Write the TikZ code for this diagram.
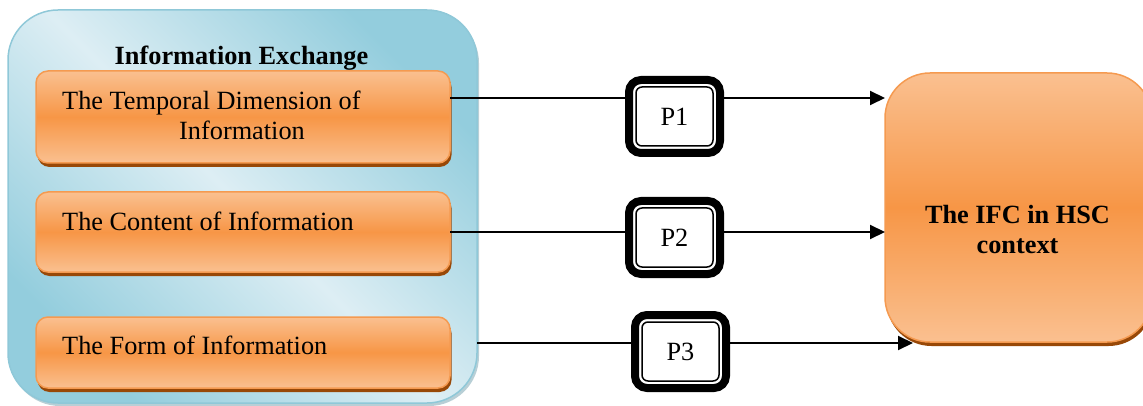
\documentclass[tikz,border=0pt]{standalone}
\usepackage{fontspec}
\setmainfont{Liberation Serif}
\usetikzlibrary{arrows.meta,shadows,calc}
\definecolor{orL}{HTML}{FAC090}
\definecolor{orM}{HTML}{F79646}
\definecolor{orB}{HTML}{F59A50}
\definecolor{orS}{HTML}{984807}
\definecolor{blL}{HTML}{DDEEF4}
\definecolor{blD}{HTML}{93CDDD}
\definecolor{blB}{HTML}{8FC8D8}
\newcommand{\fsz}{\fontsize{26.3}{30}\selectfont}
\tikzset{
  obox/.style={rounded corners=12pt, draw=orB, line width=1.5pt, outer sep=0pt, inner sep=0pt,
    top color=orL, bottom color=orL, middle color=orM,
    drop shadow={shadow xshift=1.5pt, shadow yshift=-4pt, fill=orS, opacity=1}},
  bbox/.style={rounded corners=50pt, draw=blB, line width=1.5pt, outer sep=0pt, inner sep=0pt,
    top color=blD, bottom color=blD, middle color=blL, shading angle=-45,
    drop shadow={shadow xshift=2pt, shadow yshift=-3pt, fill=blB!80!black, opacity=0.5}},
  pbox/.style={draw=black, line width=8pt, fill=white, rounded corners=12pt, outer sep=0pt,
    minimum width=91pt, minimum height=73pt, inner sep=0pt, font=\fsz},
  pin/.style={line width=1.5pt, rounded corners=6pt},
  txt/.style={font=\fsz, inner sep=0pt},
  btxt/.style={font=\fsz\bfseries, inner sep=0pt},
  arr/.style={line width=2pt, -{Triangle[length=15pt,width=14pt]}}
}
\begin{document}
\begin{tikzpicture}[x=1pt,y=-1pt]
\useasboundingbox (0,0) rectangle (1143,406);
\clip (0,0) rectangle (1143,406);
% left container
\node[bbox, minimum width=469pt, minimum height=393pt] (blue) at (242.5,206.5) {};
\node[btxt, anchor=base] (title) at (241.5,65) {Information Exchange};
% orange boxes
\node[obox, minimum width=414pt, minimum height=92pt] (t1) at (243,117) {};
\node[txt, anchor=base west] (t1a) at (62,110) {The Temporal Dimension of};
\node[txt, anchor=base] (t1b) at (242,140) {Information};
\node[obox, minimum width=414pt, minimum height=80pt] (t2) at (243,232) {};
\node[txt, anchor=base west] (t2a) at (62,230) {The Content of Information};
\node[obox, minimum width=414pt, minimum height=71pt] (t3) at (243,352.5) {};
\node[txt, anchor=base west] (t3a) at (62,354) {The Form of Information};
% right box
\node[obox, rounded corners=45pt, minimum width=267pt, minimum height=269pt] (ifc) at (1018.5,207.5) {};
\node[btxt, anchor=base] (ifca) at (1017.5,223) {The IFC in HSC};
\node[btxt, anchor=base] (ifcb) at (1017.5,253) {context};
% connectors
\coordinate (s1) at ([yshift=19pt]t1.east);
\draw[arr] (s1) -- (s1 -| ifc.west);
\draw[arr] (t2.east) -- (t2.east -| ifc.west);
\coordinate (r3) at ([yshift=9.5pt]t3.east);
\coordinate (e3) at (913,343);
\draw[arr] (r3 -| blue.east) -- (e3);
% P boxes
\node[pbox] (p1) at (674.5,116.5) {P1};
\node[pbox] (p2) at (674.5,237.5) {P2};
\node[pbox] (p3) at (680.5,351.5) {P3};
\foreach \p in {p1,p2,p3}
  \draw[pin] ([shift={(7,7)}]\p.north west) rectangle ([shift={(-7,-7)}]\p.south east);
\end{tikzpicture}
\end{document}
